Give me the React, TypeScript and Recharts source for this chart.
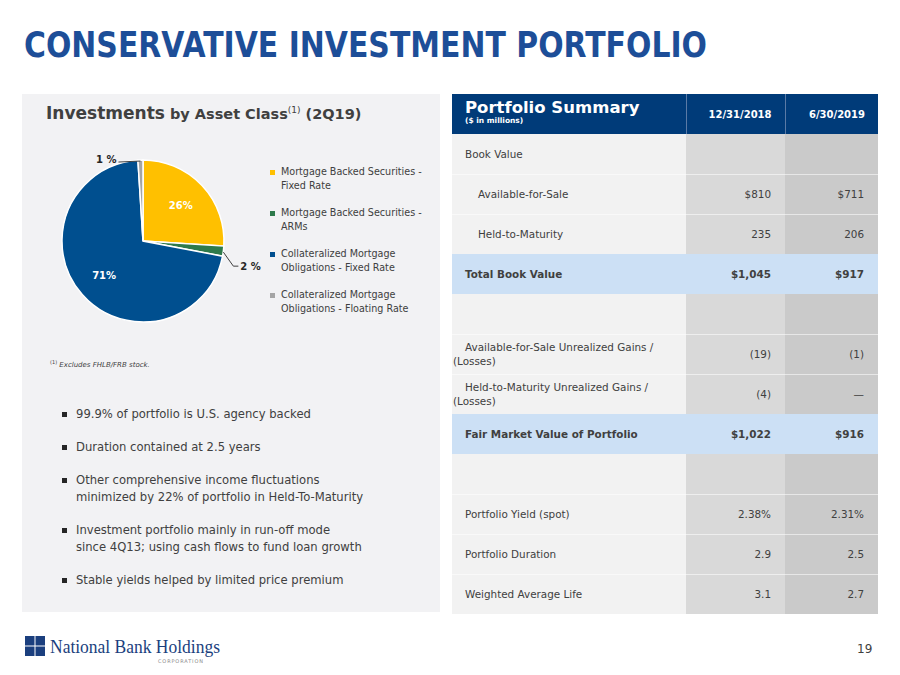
import React from 'react';
import { PieChart, Pie, Cell, Legend } from 'recharts';

// ---------- data ----------
const sliceNames = [
  'Mortgage Backed Securities - Fixed Rate',
  'Mortgage Backed Securities - ARMs',
  'Collateralized Mortgage Obligations - Fixed Rate',
  'Collateralized Mortgage Obligations - Floating Rate',
];
const legendLine1 = ['Mortgage Backed Securities -', 'Mortgage Backed Securities -', 'Collateralized Mortgage', 'Collateralized Mortgage'];
const legendLine2 = ['Fixed Rate', 'ARMs', 'Obligations - Fixed Rate', 'Obligations - Floating Rate'];
const sliceValues = [26, 2, 71, 1];
const sliceColors = ['#FFC000', '#2E7A4B', '#004F8F', '#A5A5A5'];

const bullets = [
  ['99.9% of portfolio is U.S. agency backed'],
  ['Duration contained at 2.5 years'],
  ['Other comprehensive income fluctuations', 'minimized by 22% of portfolio in Held-To-Maturity'],
  ['Investment portfolio mainly in run-off mode', 'since 4Q13; using cash flows to fund loan growth'],
  ['Stable yields helped by limited price premium'],
];

const columnHeaders = ['12/31/2018', '6/30/2019'];
const rowLabels = [
  'Book Value',
  'Available-for-Sale',
  'Held-to-Maturity',
  'Total Book Value',
  '',
  'Available-for-Sale Unrealized Gains / (Losses)',
  'Held-to-Maturity Unrealized Gains / (Losses)',
  'Fair Market Value of Portfolio',
  '',
  'Portfolio Yield (spot)',
  'Portfolio Duration',
  'Weighted Average Life',
];
const values2018 = ['', '$810', '235', '$1,045', '', '(19)', '(4)', '$1,022', '', '2.38%', '2.9', '3.1'];
const values2019 = ['', '$711', '206', '$917', '', '(1)', '\u2014', '$916', '', '2.31%', '2.5', '2.7'];
const rowKinds = ['head', 'sub', 'sub', 'total', 'blank', 'wrap', 'wrap', 'total', 'blank', 'head', 'head', 'head'];

const pieData = sliceNames.map((name, i) => ({ name, value: sliceValues[i] }));

// ---------- styles ----------
const FONT = '"DejaVu Sans", Verdana, sans-serif';
const TEXT = '#404040';
const NAVY = '#003B79';
const LIGHTBLUE = '#CCE0F5';
const RAD = Math.PI / 180;

const renderLabel = (p: any) => {
  const { cx, cy, midAngle, outerRadius, value, index } = p;
  const cos = Math.cos(-midAngle * RAD);
  const sin = Math.sin(-midAngle * RAD);
  if (value >= 5) {
    const r = outerRadius * 0.64;
    return (
      <text key={index} x={cx + r * cos} y={cy + r * sin} fill="#fff" textAnchor="middle"
        dominantBaseline="central" fontSize={10} fontWeight="bold" fontFamily={FONT}>
        {value}%
      </text>
    );
  }
  const sx = cx + outerRadius * cos;
  const sy = cy + outerRadius * sin;
  if (cos > 0) {
    const ex = sx + 10, ey = sy + 15;
    return (
      <g key={index}>
        <polyline points={`${sx},${sy + 1} ${ex},${ey} ${ex + 5},${ey}`} fill="none" stroke="#404040" strokeWidth={1} />
        <text x={ex + 7} y={ey} fill="#262626" dominantBaseline="central" fontSize={10} fontWeight="bold" fontFamily={FONT}>
          {value} %
        </text>
      </g>
    );
  }
  const ex = sx - 22, ey = sy + 2;
  return (
    <g key={index}>
      <polyline points={`${sx},${sy + 1} ${ex},${ey}`} fill="none" stroke="#404040" strokeWidth={1} />
      <text x={ex - 2} y={ey - 3} fill="#262626" textAnchor="end" dominantBaseline="central" fontSize={10} fontWeight="bold" fontFamily={FONT}>
        {value} %
      </text>
    </g>
  );
};

const renderLegend = (props: any) => {
  const payload = [...(props.payload || [])];
  payload.sort((a: any, b: any) => sliceNames.indexOf(a.value) - sliceNames.indexOf(b.value));
  return (
    <div style={{ fontFamily: FONT, fontSize: 9.6, color: TEXT }}>
      {payload.map((entry: any) => {
        const i = sliceNames.indexOf(entry.value);
        return (
          <div key={entry.value} style={{ position: 'relative', paddingLeft: 11, lineHeight: '14px', marginBottom: 13 }}>
            <span style={{ position: 'absolute', left: 0, top: 5, width: 5, height: 5, background: sliceColors[i] }} />
            <div>{legendLine1[i]}</div>
            <div>{legendLine2[i]}</div>
          </div>
        );
      })}
    </div>
  );
};

function PortfolioTable() {
  const cellBase: React.CSSProperties = { height: 40, padding: 0, verticalAlign: 'middle', boxSizing: 'border-box' };
  return (
    <table style={{ borderCollapse: 'collapse', tableLayout: 'fixed', width: 426, fontFamily: FONT, fontSize: 10.4, color: TEXT }}>
      <colgroup>
        <col style={{ width: 234 }} />
        <col style={{ width: 99 }} />
        <col style={{ width: 93 }} />
      </colgroup>
      <thead>
        <tr style={{ background: NAVY, color: '#fff' }}>
          <th style={{ ...cellBase, textAlign: 'left', paddingLeft: 13 }}>
            <div style={{ fontSize: 16.5, fontWeight: 'bold', lineHeight: '17px', marginTop: -4 }}>Portfolio Summary</div>
            <div style={{ fontSize: 7.5, fontWeight: 'bold', lineHeight: '9px' }}>($ in millions)</div>
          </th>
          {columnHeaders.map((h) => (
            <th key={h} style={{ ...cellBase, textAlign: 'right', paddingRight: 13, fontSize: 10, fontWeight: 'bold', borderLeft: '1px solid #5a7aa6' }}>{h}</th>
          ))}
        </tr>
      </thead>
      <tbody>
        {rowLabels.map((label, i) => {
          const kind = rowKinds[i];
          const isTotal = kind === 'total';
          const bg1 = isTotal ? LIGHTBLUE : '#F2F2F2';
          const bg2 = isTotal ? LIGHTBLUE : '#D9D9D9';
          const bg3 = isTotal ? LIGHTBLUE : '#CACACA';
          const sep = i > 0 && !isTotal && rowKinds[i - 1] !== 'total' ? '1px solid rgba(255,255,255,0.55)' : 'none';
          let labelStyle: React.CSSProperties = { ...cellBase, background: bg1, borderTop: sep, paddingLeft: 13 };
          if (kind === 'sub') labelStyle.paddingLeft = 26;
          if (isTotal) labelStyle.fontWeight = 'bold';
          if (kind === 'wrap') {
            labelStyle = { ...labelStyle, paddingLeft: 1, textIndent: 12, lineHeight: '14px', paddingRight: 20 };
          }
          return (
            <tr key={i}>
              <td style={labelStyle}>{label}</td>
              <td style={{ ...cellBase, background: bg2, borderTop: sep, textAlign: 'right', paddingRight: 14, fontWeight: isTotal ? 'bold' : 'normal' }}>{values2018[i]}</td>
              <td style={{ ...cellBase, background: bg3, borderTop: sep, textAlign: 'right', paddingRight: 14, fontWeight: isTotal ? 'bold' : 'normal' }}>{values2019[i]}</td>
            </tr>
          );
        })}
      </tbody>
    </table>
  );
}

export default function App() {
  return (
    <div style={{ position: 'absolute', left: 0, top: 0, width: 900, height: 675, background: '#fff', overflow: 'hidden', fontFamily: FONT, color: TEXT }}>
      {/* Title */}
      <svg width={900} height={70} style={{ position: 'absolute', left: 0, top: 0 }}>
        <text x={24} y={57} fontSize={35} fontWeight="bold" fill="#1D4E98" fontFamily={FONT} textLength={683} lengthAdjust="spacingAndGlyphs">
          CONSERVATIVE INVESTMENT PORTFOLIO
        </text>
      </svg>

      {/* Left panel */}
      <div style={{ position: 'absolute', left: 22, top: 94, width: 418, height: 518, background: '#F2F2F4' }} />
      <div style={{ position: 'absolute', left: 46, top: 103, whiteSpace: 'nowrap', color: '#404040', fontWeight: 'bold' }}>
        <span style={{ fontSize: 17 }}>Investments</span>
        <span style={{ fontSize: 14.5 }}> by Asset Class</span>
        <sup style={{ fontSize: 9, fontWeight: 'normal' }}>(1)</sup>
        <span style={{ fontSize: 14.5 }}> (2Q19)</span>
      </div>

      <div style={{ position: 'absolute', left: 22, top: 125 }}>
        <PieChart width={418} height={235}>
          <Pie
            data={pieData}
            dataKey="value"
            nameKey="name"
            cx={116}
            cy={111}
            outerRadius={81}
            startAngle={90}
            endAngle={-270}
            stroke="#ffffff"
            strokeWidth={1.5}
            label={renderLabel}
            labelLine={false}
            isAnimationActive={false}
          >
            {pieData.map((d, i) => (
              <Cell key={d.name} fill={sliceColors[i]} />
            ))}
          </Pie>
          <Legend
            layout="vertical"
            align="right"
            verticalAlign="top"
            content={renderLegend}
            wrapperStyle={{ position: 'absolute', left: 248, top: 40, width: 170 }}
          />
        </PieChart>
      </div>

      <div style={{ position: 'absolute', left: 50, top: 359, fontSize: 7, fontStyle: 'italic', color: TEXT, whiteSpace: 'nowrap' }}>
        <sup style={{ fontSize: 5, fontStyle: 'normal' }}>(1)</sup> Excludes FHLB/FRB stock.
      </div>

      <div style={{ position: 'absolute', left: 62, top: 406, fontSize: 11.6, color: TEXT }}>
        {bullets.map((lines, i) => (
          <div key={i} style={{ position: 'relative', paddingLeft: 14, lineHeight: '17px', marginBottom: 16, whiteSpace: 'nowrap' }}>
            <span style={{ position: 'absolute', left: 0, top: 6, width: 5, height: 5, background: '#262626' }} />
            {lines.map((l, j) => <div key={j}>{l}</div>)}
          </div>
        ))}
      </div>

      {/* Table */}
      <div style={{ position: 'absolute', left: 452, top: 94 }}>
        <PortfolioTable />
      </div>

      {/* Footer logo */}
      <svg width={300} height={40} style={{ position: 'absolute', left: 0, top: 630 }}>
        <rect x={25} y={6} width={9.5} height={9.5} fill="#1B3F7E" />
        <rect x={35.5} y={6} width={9.5} height={9.5} fill="#1B3F7E" />
        <rect x={25} y={16.5} width={9.5} height={9.5} fill="#1B3F7E" />
        <rect x={35.5} y={16.5} width={9.5} height={9.5} fill="#1B3F7E" />
        <text x={50} y={22.5} fontSize={18} fill="#1B3F7E" fontFamily='"Liberation Serif", "DejaVu Serif", serif' textLength={170} lengthAdjust="spacingAndGlyphs">National Bank Holdings</text>
        <text x={158} y={33} fontSize={5} fill="#8A8A8A" fontFamily={FONT} textLength={45} lengthAdjust="spacing">CORPORATION</text>
      </svg>
      <div style={{ position: 'absolute', left: 857, top: 642, fontSize: 12, color: TEXT }}>19</div>
    </div>
  );
}
